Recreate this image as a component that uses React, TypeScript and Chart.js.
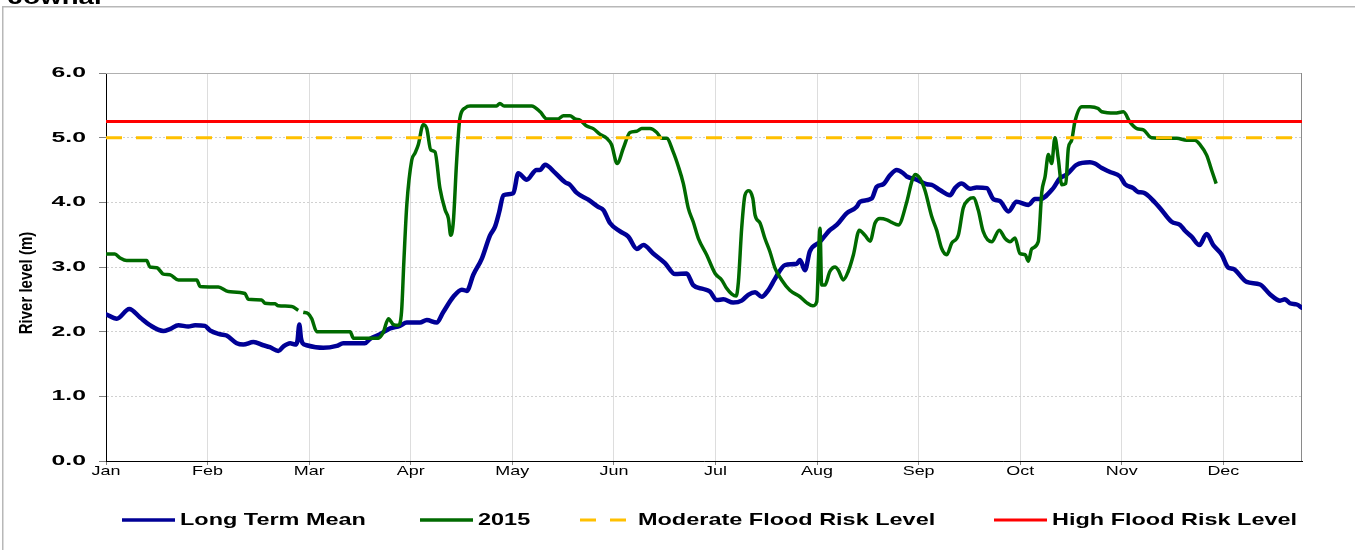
import React, { useEffect, useRef } from 'react';
import { Chart, registerables } from 'chart.js';

Chart.register(...registerables);

const chartTitle = 'Jowhar';
const yAxisTitle = 'River level (m)';
const monthLabels = ['Jan', 'Feb', 'Mar', 'Apr', 'May', 'Jun', 'Jul', 'Aug', 'Sep', 'Oct', 'Nov', 'Dec'];
const monthTickDays = [0, 31, 62, 93, 124, 155, 186, 217, 248, 279, 310, 341];
const yTickMin = 0;
const yTickMax = 6;
const yTickStep = 1;
const moderateLevel = 5.0;
const highLevel = 5.25;
const axisDays = [0, 365];

const meanDays = [0, 3.3, 7.1, 10.4, 13.4, 17.5, 19.5, 22.1, 25.1, 27.2,
  30.2, 31.7, 34.8, 36.8, 39.9, 41.9, 45.0, 48.0, 50.0, 52.6,
  54.1, 56.2, 57.7, 58.4, 59.0, 59.5, 60.0, 61.2, 66.3, 70.4,
  72.4, 79.0, 80.6, 83.6, 86.7, 89.7, 91.8, 95.8, 97.9, 100.9,
  102.9, 106.0, 108.6, 110.1, 112.1, 114.7, 117.2, 118.7, 120.0, 121.3,
  124.3, 125.8, 128.4, 131.4, 132.4, 134.0, 137.0, 140.1, 141.6, 143.6,
  147.2, 150.2, 151.8, 153.8, 156.9, 159.4, 162.0, 164.0, 167.0, 170.6,
  173.7, 177.2, 179.2, 182.3, 184.3, 186.4, 188.4, 191.4, 194.0, 196.0,
  198.1, 200.1, 202.1, 204.2, 207.2, 210.8, 211.8, 213.3, 214.8, 217.9,
  220.9, 223.0, 226.0, 229.1, 230.1, 233.7, 235.2, 237.2, 239.3, 241.3,
  243.3, 244.4, 247.4, 250.5, 252.0, 254.5, 257.6, 259.1, 261.1, 263.7,
  265.7, 268.8, 270.8, 272.8, 275.4, 277.9, 281.5, 283.5, 285.0, 289.1,
  291.1, 293.2, 296.2, 300.3, 301.8, 303.9, 306.4, 309.5, 311.0, 313.5,
  315.0, 316.6, 320.1, 321.7, 325.2, 327.8, 329.3, 331.3, 333.7, 335.9,
  337.9, 340.5, 342.5, 344.0, 348.1, 352.2, 355.2, 358.3, 359.8, 361.3,
  363.4, 365];

const meanLevels = [2.27, 2.20, 2.35, 2.22, 2.10, 2.01, 2.04, 2.10, 2.08, 2.10,
  2.09, 2.02, 1.96, 1.94, 1.82, 1.80, 1.84, 1.79, 1.76, 1.70,
  1.77, 1.82, 1.80, 1.85, 2.11, 1.90, 1.82, 1.79, 1.75, 1.78,
  1.82, 1.82, 1.89, 1.96, 2.05, 2.09, 2.14, 2.14, 2.18, 2.14,
  2.30, 2.54, 2.65, 2.63, 2.88, 3.13, 3.49, 3.62, 3.85, 4.11,
  4.14, 4.45, 4.35, 4.50, 4.50, 4.58, 4.46, 4.31, 4.27, 4.15,
  4.04, 3.93, 3.88, 3.68, 3.55, 3.47, 3.28, 3.34, 3.21, 3.06,
  2.89, 2.90, 2.72, 2.66, 2.62, 2.49, 2.50, 2.45, 2.48, 2.57,
  2.61, 2.54, 2.64, 2.82, 3.03, 3.05, 3.11, 2.95, 3.24, 3.39,
  3.57, 3.65, 3.83, 3.93, 4.01, 4.06, 4.24, 4.28, 4.42, 4.50,
  4.45, 4.40, 4.35, 4.28, 4.27, 4.19, 4.11, 4.22, 4.29, 4.21,
  4.23, 4.22, 4.05, 4.02, 3.86, 4.01, 3.96, 4.05, 4.05, 4.22,
  4.37, 4.43, 4.58, 4.62, 4.60, 4.53, 4.47, 4.40, 4.28, 4.22,
  4.16, 4.15, 4.00, 3.91, 3.70, 3.65, 3.56, 3.47, 3.34, 3.51,
  3.34, 3.19, 2.99, 2.97, 2.77, 2.73, 2.58, 2.48, 2.50, 2.44,
  2.42, 2.37];

const y2015Days = [0, 2.7, 4.3, 6.3, 12.4, 13.4, 15.5, 17.5, 19.5, 22.1,
  27.7, 28.7, 34.3, 37.3, 42.4, 43.4, 47.5, 48.5, 51.6, 52.6,
  56.7, 58.7, 59.4, 60.2, 61.7, 62.8, 64.3, 74.5, 75.5, 83.1,
  84.6, 86.2, 87.7, 89.2, 90.2, 90.9, 91.8, 93.3, 94.3, 95.3,
  96.8, 97.9, 99.1, 100.4, 101.9, 103.5, 104.5, 105.2, 106.0, 107.0,
  108.0, 109.6, 111.1, 119.2, 120.2, 121.5, 129.9, 132.5, 134.5, 138.0,
  139.6, 141.6, 143.1, 144.7, 146.7, 148.7, 150.8, 152.8, 154.3, 156.0,
  157.9, 159.9, 162.0, 163.5, 166.0, 168.1, 169.6, 171.1, 173.1, 174.7,
  176.2, 177.7, 179.2, 180.8, 183.3, 185.9, 187.9, 189.4, 191.0, 192.3,
  193.0, 194.0, 195.0, 196.2, 197.4, 198.1, 199.6, 201.1, 202.6, 204.2,
  206.2, 208.7, 211.8, 213.8, 215.7, 216.9, 217.9, 218.4, 219.4, 220.9,
  222.5, 223.5, 225.0, 226.5, 228.1, 229.9, 231.6, 233.2, 234.7, 236.2,
  238.3, 239.8, 241.8, 244.4, 245.9, 246.9, 248.4, 249.9, 252.0, 253.5,
  255.0, 256.6, 258.1, 260.1, 261.6, 263.2, 264.7, 266.2, 267.7, 270.3,
  272.6, 274.4, 275.9, 277.4, 278.9, 280.5, 281.5, 282.5, 284.5, 285.6,
  286.6, 287.6, 288.6, 289.6, 290.6, 291.7, 292.9, 293.7, 294.7, 295.7,
  297.8, 300.3, 302.8, 303.9, 307.9, 310.5, 312.5, 314.6, 316.6, 319.1,
  326.8, 329.8, 332.3, 333.9, 335.9, 337.4, 338.8];

const y2015Levels = [3.20, 3.20, 3.14, 3.10, 3.10, 3.00, 2.99, 2.89, 2.88, 2.80,
  2.80, 2.70, 2.69, 2.62, 2.59, 2.50, 2.49, 2.44, 2.43, 2.40,
  2.39, 2.33, null, 2.30, 2.28, 2.20, 2.00, 2.00, 1.90, 1.90,
  1.99, 2.20, 2.11, 2.10, 2.31, 3.08, 3.96, 4.65, 4.76, 4.89,
  5.20, 5.14, 4.81, 4.78, 4.22, 3.88, 3.75, 3.49, 3.70, 4.63,
  5.30, 5.46, 5.49, 5.49, 5.53, 5.49, 5.49, 5.40, 5.29, 5.29,
  5.34, 5.34, 5.29, 5.27, 5.18, 5.14, 5.05, 4.99, 4.89, 4.60,
  4.84, 5.08, 5.10, 5.14, 5.14, 5.08, 4.99, 4.99, 4.78, 4.55,
  4.29, 3.91, 3.70, 3.44, 3.19, 2.90, 2.80, 2.67, 2.58, 2.55,
  2.77, 3.60, 4.11, 4.18, 4.06, 3.80, 3.68, 3.44, 3.24, 2.98,
  2.80, 2.64, 2.54, 2.45, 2.40, 2.46, 3.60, 2.72, 2.72, 2.93,
  3.00, 2.95, 2.80, 2.93, 3.19, 3.57, 3.49, 3.40, 3.68, 3.75,
  3.73, 3.69, 3.65, 4.01, 4.32, 4.43, 4.37, 4.19, 3.78, 3.57,
  3.29, 3.19, 3.37, 3.49, 3.91, 4.04, 4.07, 3.88, 3.55, 3.39,
  3.57, 3.44, 3.39, 3.45, 3.21, 3.19, 3.09, 3.28, 3.39, 4.16,
  4.40, 4.74, 4.60, 5.00, 4.68, 4.27, 4.29, 4.84, 4.96, 5.25,
  5.48, 5.48, 5.45, 5.40, 5.38, 5.40, 5.24, 5.14, 5.12, 5.00,
  4.99, 4.96, 4.96, 4.89, 4.73, 4.50, 4.29];

const seriesNames = ['Long Term Mean', '2015', 'Moderate Flood Risk Level', 'High Flood Risk Level'];

const zip = (xs: number[], ys: (number | null)[]) => xs.map((x, i) => ({ x, y: ys[i] }));

const STRETCH = 1.38;
const FONT = '"Liberation Sans", Arial, sans-serif';

function stretchedText(ctx: CanvasRenderingContext2D, text: string, x: number, y: number, font: string,
  align: CanvasTextAlign, sx: number, baseline: CanvasTextBaseline = 'middle') {
  ctx.save();
  ctx.font = font;
  ctx.fillStyle = '#000';
  ctx.textAlign = align;
  ctx.textBaseline = baseline;
  ctx.translate(x, y);
  ctx.scale(sx, 1);
  ctx.fillText(text, 0, 0);
  ctx.restore();
}

const decorPlugin = {
  id: 'decor',
  beforeDatasetsDraw(chart: any) {
    const { ctx, chartArea: a } = chart;
    ctx.save();
    ctx.lineWidth = 1;
    ctx.strokeStyle = '#b0b0b0';
    ctx.beginPath();
    ctx.moveTo(a.left, a.top + 0.5);
    ctx.lineTo(a.right, a.top + 0.5);
    ctx.stroke();
    ctx.strokeStyle = '#8a8a8a';
    ctx.beginPath();
    ctx.moveTo(a.right - 0.5, a.top);
    ctx.lineTo(a.right - 0.5, a.bottom);
    ctx.stroke();
    ctx.restore();
  },
  afterDraw(chart: any) {
    const { ctx } = chart;
    // outer frame
    ctx.save();
    ctx.strokeStyle = '#b8b8b8';
    ctx.lineWidth = 1.5;
    ctx.beginPath();
    ctx.moveTo(2.75, chart.height);
    ctx.lineTo(2.75, 6.75);
    ctx.lineTo(chart.width, 6.75);
    ctx.stroke();
    ctx.restore();

    // clipped title
    stretchedText(ctx, chartTitle, 8, 4, `bold 20px ${FONT}`, 'left', STRETCH, 'alphabetic');

    // y tick labels
    const ys = chart.scales.y;
    ys.ticks.forEach((t: any) => {
      stretchedText(ctx, Number(t.value).toFixed(1), 86, ys.getPixelForValue(t.value),
        `bold 15px ${FONT}`, 'right', 1.65);
    });
    // x tick labels
    const xs = chart.scales.x;
    xs.ticks.forEach((t: any, i: number) => {
      stretchedText(ctx, monthLabels[i], xs.getPixelForValue(t.value), 471, `13px ${FONT}`, 'center', STRETCH);
    });
    // y axis title (rotated)
    ctx.save();
    ctx.font = `bold 15px ${FONT}`;
    ctx.fillStyle = '#000';
    ctx.textAlign = 'center';
    ctx.textBaseline = 'middle';
    ctx.translate(27, 283);
    ctx.scale(1.2, 1);
    ctx.rotate(-Math.PI / 2);
    ctx.fillText(yAxisTitle, 0, 0);
    ctx.restore();

    // legend
    const starts = [122, 420, 580, 994];
    const ly = 520;
    chart.data.datasets.forEach((ds: any, i: number) => {
      const x0 = starts[i];
      ctx.save();
      ctx.strokeStyle = ds.borderColor;
      ctx.lineWidth = Math.min(ds.borderWidth, 3.5);
      ctx.setLineDash(ds.borderDash || []);
      ctx.beginPath();
      ctx.moveTo(x0, ly);
      ctx.lineTo(x0 + 53, ly);
      ctx.stroke();
      ctx.restore();
      stretchedText(ctx, ds.label, x0 + 58, ly, `bold 17px ${FONT}`, 'left', STRETCH);
    });
  },
};

export default function App() {
  const canvasRef = useRef<HTMLCanvasElement | null>(null);

  useEffect(() => {
    document.body.style.margin = '0';
    const canvas = canvasRef.current;
    if (!canvas) return;
    const chart = new Chart(canvas, {
      type: 'line',
      data: {
        datasets: [
          {
            label: seriesNames[0],
            data: zip(meanDays, meanLevels),
            borderColor: '#000096',
            borderWidth: 4.5,
            pointRadius: 0,
            cubicInterpolationMode: 'monotone',
            borderJoinStyle: 'round',
            borderCapStyle: 'round',
            order: 3,
          },
          {
            label: seriesNames[1],
            data: zip(y2015Days, y2015Levels),
            borderColor: '#006a00',
            borderWidth: 3.5,
            pointRadius: 0,
            cubicInterpolationMode: 'monotone',
            borderJoinStyle: 'round',
            spanGaps: false,
            order: 2,
          },
          {
            label: seriesNames[2],
            data: zip(axisDays, [moderateLevel, moderateLevel]),
            borderColor: '#ffc000',
            borderWidth: 3,
            borderDash: [16, 14],
            pointRadius: 0,
            order: 1,
          },
          {
            label: seriesNames[3],
            data: zip(axisDays, [highLevel, highLevel]),
            borderColor: '#ff0000',
            borderWidth: 3,
            pointRadius: 0,
            order: 0,
          },
        ],
      },
      options: {
        responsive: false,
        animation: false,
        devicePixelRatio: 1,
        parsing: true,
        layout: { padding: { top: 73, right: 53, left: 0, bottom: 0 } },
        plugins: { legend: { display: false }, tooltip: { enabled: false }, title: { display: false } },
        scales: {
          x: {
            type: 'linear',
            min: axisDays[0],
            max: axisDays[1],
            afterBuildTicks: (s: any) => { s.ticks = monthTickDays.map((v) => ({ value: v })); },
            afterFit: (s: any) => { s.height = 89; },
            ticks: { display: false },
            grid: { color: '#dddddd', lineWidth: 1, drawTicks: true, tickLength: 4, tickColor: '#808080' },
            border: { color: '#000000', width: 1 },
          },
          y: {
            type: 'linear',
            min: yTickMin,
            max: yTickMax,
            afterFit: (s: any) => { s.width = 106; },
            ticks: { display: false, stepSize: yTickStep },
            grid: { color: '#d0d0d0', lineWidth: 1, drawTicks: true, tickLength: 7, tickColor: '#808080' },
            border: { color: '#000000', width: 1, dash: [2, 2] },
          },
        },
      },
      plugins: [decorPlugin],
    } as any);
    return () => chart.destroy();
  }, []);

  return (
    <div style={{ position: 'absolute', left: 0, top: 0, width: 1355, height: 550, background: '#fff' }}>
      <canvas ref={canvasRef} width={1355} height={550} />
    </div>
  );
}
